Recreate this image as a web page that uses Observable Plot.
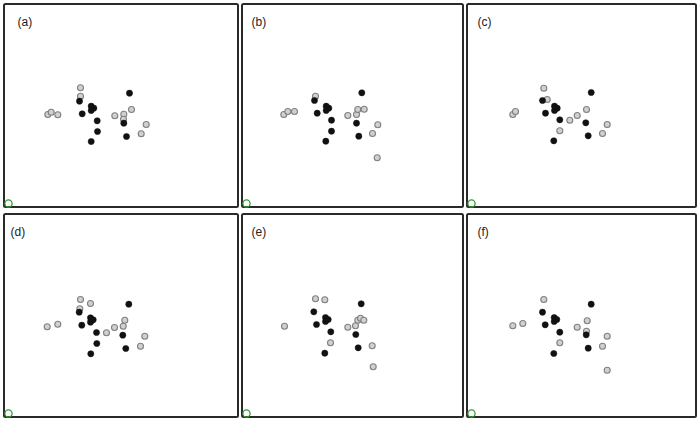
<!DOCTYPE html>
<html>
<head>
<meta charset="utf-8">
<script src="https://cdn.jsdelivr.net/npm/d3@7"></script>
<script src="https://cdn.jsdelivr.net/npm/@observablehq/plot@0.6"></script>
<style>
  html, body { margin: 0; padding: 0; background: #fff; }
  #chart { position: relative; width: 700px; height: 423px; font-family: "Liberation Sans", Arial, sans-serif; }
  .panel { position: absolute; }
</style>
</head>
<body>
<div id="chart"></div>
<script>
// Panel labels
const panelLabels = ["(a)", "(b)", "(c)", "(d)", "(e)", "(f)"];

// Point values per panel, [x, y] in each panel's own units (y downward)
const grayA  = [[77,84.3],[77,92.7],[44.3,111],[47.7,108.7],[54.3,111.3],[111.3,112.3],[120.3,110.7],[128,106],[120,115.7],[142.7,121],[137.7,130.3]];
const blackA = [[76,97.7],[126,89.7],[87.7,102.7],[90.3,104.7],[87.7,107],[78.7,110.3],[93.7,117.3],[120.3,119.7],[94,128],[123,133],[87.7,138]];

const grayB  = [[74,92.7],[42.3,111],[46.3,108],[53,108],[106.3,112],[115,111],[116.3,106],[122.7,105.7],[136.3,121.3],[131,130],[135.7,154.3]];
const blackB = [[73,97],[120.3,89.3],[84.7,102.7],[87.3,104.7],[84.7,107],[75.7,109.7],[90,116.7],[115,119.7],[90,127.7],[117.3,132.7],[84.3,137.7]];

const grayC  = [[77.3,84.7],[80.7,96],[46.3,111],[49,108],[120,106],[110.7,112],[103.3,116.7],[93.3,127.3],[140.7,121],[136,130]];
const blackC = [[76,97],[124.7,89],[88,102.7],[90.7,104.7],[88,107],[79,109.7],[93.3,116.3],[119.3,119.3],[121.7,132.3],[87.3,137.3]];

const grayD  = [[77,86],[87,90],[76.3,95.3],[43.7,113.3],[54.3,110.7],[103,119.3],[111,114],[119.7,112.7],[121.3,106.7],[141.3,122.7],[137,132.7]];
const blackD = [[75.7,98.7],[125.3,90.7],[87,104.3],[89.7,106.3],[87,108.7],[78.3,111.7],[93,119],[119.3,121.7],[93.3,130],[122.3,135],[87.3,140.3]];

const grayE  = [[74,85.3],[83.3,86.3],[43,112.7],[106.3,113.7],[114,112.3],[116.3,106.7],[119,104.7],[122.3,106.7],[89,129.3],[130.7,132.3],[131.7,153.3]];
const blackE = [[72.3,98.3],[119.7,90.3],[84,104],[86.7,106],[84,108],[75,111],[89.3,118.3],[114.3,121],[116.7,134.3],[83.3,139.7]];

const grayF  = [[77.3,86],[46.3,112.3],[56.3,110],[110.7,113.7],[120.7,107.3],[120,117.7],[140.7,122.7],[136,132.7],[93.3,129.3],[140.7,156.7]];
const blackF = [[76,98.7],[124.7,90.7],[87.7,104],[90.3,106],[87.7,108],[78.7,111.3],[93.3,118.7],[119.7,121.3],[121.7,134.7],[87.3,140]];

const grays  = [grayA, grayB, grayC, grayD, grayE, grayF];
const blacks = [blackA, blackB, blackC, blackD, blackE, blackF];

// Layout (pixels)
const colX = [3, 241, 466], colW = [235, 222, 230];
const rowY = [3, 213], rowH = 204;
const labelX = [14, 10, 11, 7, 10, 11];

const chart = document.getElementById("chart");
panelLabels.forEach((lab, i) => {
  const c = i % 3, r = Math.floor(i / 3);
  const w = colW[c], h = rowH;
  const toObj = arr => arr.map(([x, y]) => ({x, y}));
  const p = Plot.plot({
    width: w, height: h,
    margin: 0,
    x: {domain: [0, w], range: [0, w], axis: null},
    y: {domain: [0, h], range: [0, h], axis: null},
    style: {background: "transparent", overflow: "visible", fontFamily: "'Liberation Sans', Arial, sans-serif"},
    marks: [
      Plot.frame({stroke: "#2a2a2a", strokeWidth: 2, inset: 0.5, rx: 1.5}),
      Plot.dot(toObj(grays[i]), {x: "x", y: "y", r: 3, fill: "#d0d0d0", stroke: "#808080", strokeWidth: 1.1}),
      Plot.dot(toObj(blacks[i]), {x: "x", y: "y", r: 3.1, fill: "#111", stroke: "#111", strokeWidth: 0.5}),
      Plot.dot([{x: 5, y: 200}], {x: "x", y: "y", r: 3.6, fill: "none", stroke: "#3a9a3a", strokeWidth: 1.3}),
      Plot.text([lab], {x: labelX[i], y: 19, text: d => d, textAnchor: "start", fontSize: 12, fill: "#222"})
    ]
  });
  const div = document.createElement("div");
  div.className = "panel";
  div.style.left = colX[c] + "px";
  div.style.top = rowY[r] + "px";
  div.appendChild(p);
  chart.appendChild(div);
});
</script>
</body>
</html>
